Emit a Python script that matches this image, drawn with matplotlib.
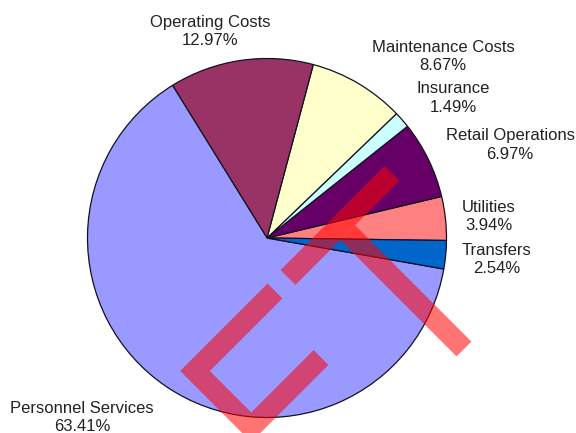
import matplotlib
matplotlib.use("Agg")
import matplotlib.pyplot as plt

# budget shares (percent), counter-clockwise from the 3 o'clock position
categories = ["Utilities", "Retail Operations", "Insurance", "Maintenance Costs",
              "Operating Costs", "Personnel Services", "Transfers"]
shares = [3.94, 6.97, 1.49, 8.67, 12.97, 63.41, 2.54]
colors = ["#FF8080", "#660066", "#CCFFFF", "#FFFFCC", "#993366", "#9999FF", "#0066CC"]

# label anchor points in figure pixels (x, y from top)
label_px = {
    "Utilities": (489, 216.5),
    "Retail Operations": (510, 145),
    "Insurance": (453, 98),
    "Maintenance Costs": (443, 56.5),
    "Operating Costs": (210, 31.5),
    "Personnel Services": (82, 417.5),
    "Transfers": (497, 259.5),
}

W, H = 576, 433
cx, cy, r = 267, 238, 179.5

plt.rcParams['font.family'] = ['Liberation Sans', 'DejaVu Sans']
fig = plt.figure(figsize=(W / 100, H / 100), dpi=100)
ax = fig.add_axes([(cx - r) / W, (H - cy - r) / H, 2 * r / W, 2 * r / H])
ax.pie(shares, colors=colors, startangle=-0.8, counterclock=True, radius=1,
       wedgeprops=dict(edgecolor="#111122", linewidth=0.9))
ax.set_xlim(-1, 1)
ax.set_ylim(-1, 1)
ax.set_aspect("equal")
ax.axis("off")

for name, val in zip(categories, shares):
    px, py = label_px[name]
    ax.text((px - cx) / r, (cy - py) / r, f"{name}\n{val:.2f}%",
            ha="center", va="center", multialignment="center",
            fontsize=12, color="#222222", linespacing=1.3, clip_on=False)

# red stamp overlay
ov = fig.add_axes([0, 0, 1, 1])
ov.set_xlim(0, W)
ov.set_ylim(H, 0)
ov.axis("off")
stamp = dict(color="#FF0000", alpha=0.55, linewidth=15.1,
             solid_capstyle="butt", solid_joinstyle="miter")
ov.plot([392, 288], [173.5, 277.5], **stamp)
ov.plot([347.75, 464], [232.75, 349], **stamp)
ov.plot([275, 195, 251.25, 321], [291, 371, 427.25, 357.5], **stamp)

fig.savefig("out.png", dpi=100)
